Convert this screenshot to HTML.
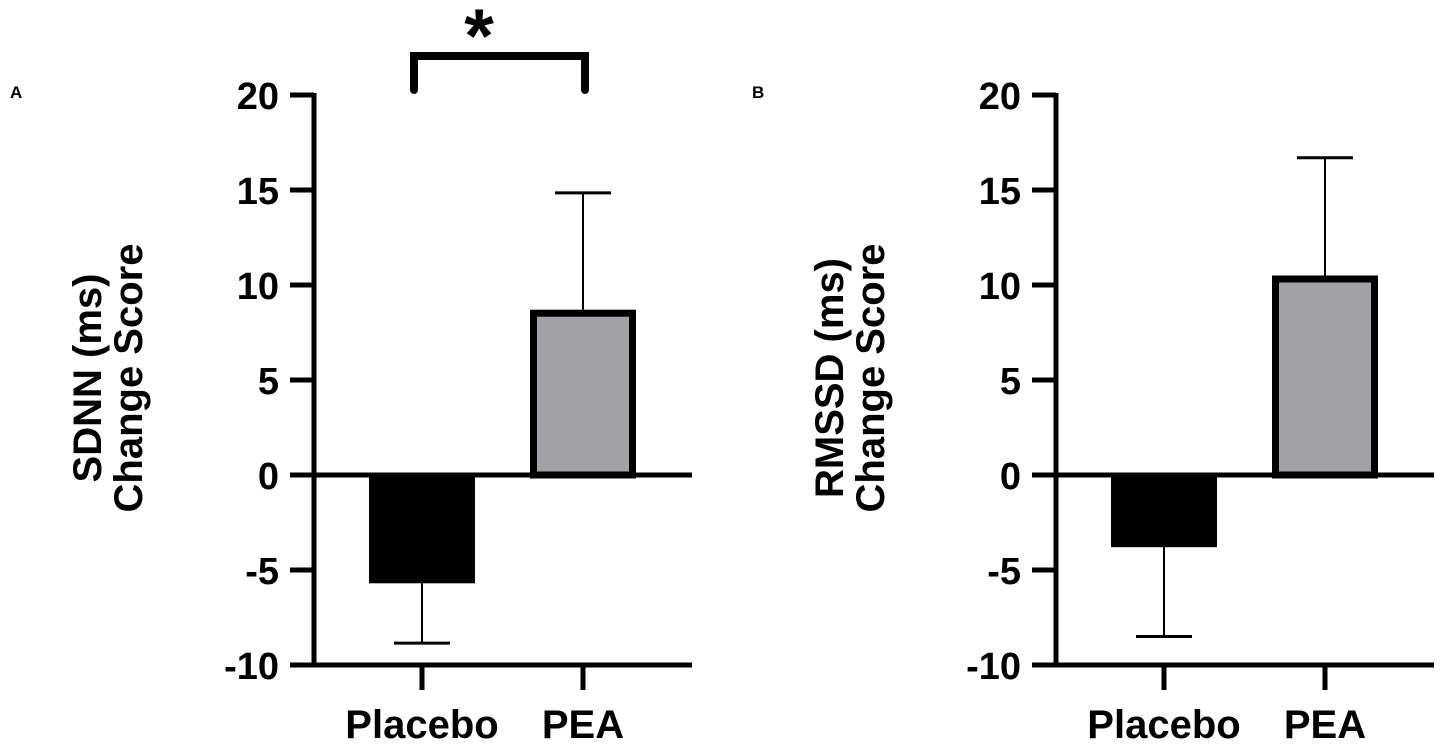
<!DOCTYPE html>
<html><head><meta charset="utf-8"><style>
body{margin:0;background:#fff}
svg{display:block;font-family:"Liberation Sans",Arial,sans-serif;font-weight:bold}
</style></head><body>
<svg id="chart" width="1441" height="746" viewBox="0 0 1441 746" xmlns="http://www.w3.org/2000/svg"></svg>
<script>
const categories = ["Placebo", "PEA"];
const sdnnMeans = [-5.7, 8.7];
const sdnnErrors = [3.15, 6.15];
const rmssdMeans = [-3.8, 10.5];
const rmssdErrors = [4.7, 6.2];
const yTicks = [20, 15, 10, 5, 0, -5, -10];
const panels = [
  {id:"a", letter:"A", title:["SDNN (ms)","Change Score"], means:sdnnMeans, errs:sdnnErrors, ox:0, sig:true},
  {id:"b", letter:"B", title:["RMSSD (ms)","Change Score"], means:rmssdMeans, errs:rmssdErrors, ox:742, sig:false}
];
const NS="http://www.w3.org/2000/svg";
const svg=document.getElementById('chart');
function el(tag, attrs, parent){const e=document.createElementNS(NS,tag);for(const k in attrs)e.setAttribute(k,attrs[k]);(parent||svg).appendChild(e);return e;}
const y0=475, ppu=19;
function yScale(v){return y0 - v*ppu;}
const barCenters=[422,583], barW=106;
panels.forEach(p=>{
  const g=el('g',{});
  
  
  const ax=314+p.ox;
  const L=el('text',{x:10+p.ox,y:98,'font-size':17},g);L.textContent=p.letter;
  
  
  p.title.forEach((t,i)=>{
    const x=101+p.ox+i*41;
    const tt=el('text',{x:x,y:378,'font-size':40,'text-anchor':'middle',transform:`rotate(-90 ${x} 378)`},g);tt.textContent=t;
    
    
  });
  p.means.forEach((m,i)=>{
    const cx=barCenters[i]+p.ox;
    const top=Math.min(yScale(m),y0), bot=Math.max(yScale(m),y0);
    const tipV = m<0 ? m-p.errs[i] : m+p.errs[i];
    const ey=yScale(tipV), ey0=yScale(m);
    const eb=el('line',{x1:cx,x2:cx,y1:ey0,y2:ey,stroke:'#000','stroke-width':2},g);
    
    
    const cap=el('line',{x1:cx-28,x2:cx+28,y1:ey,y2:ey,stroke:'#000','stroke-width':3},g);
    
    
    let r;
    if(i===0){ r=el('rect',{x:cx-barW/2,y:top,width:barW,height:bot-top,fill:'#000'},g); }
    else { r=el('rect',{x:cx-barW/2+3.5,y:top+3.5,width:barW-7,height:bot-top-3.5,fill:'#a2a1a6',stroke:'#000','stroke-width':7},g); }
    
    
    const xt=el('line',{x1:cx,x2:cx,y1:666,y2:690,stroke:'#000','stroke-width':5},g);
    
    
    const lb=el('text',{x:cx,y:738,'font-size':40,'text-anchor':'middle'},g);lb.textContent=categories[i];
    
    
  });
  const ya=el('line',{x1:ax,x2:ax,y1:yScale(20)-2,y2:yScale(-10)+2,stroke:'#000','stroke-width':5},g);
  
  
  [0,-10].forEach(v=>{
    const xl=el('line',{x1:ax-24,x2:692+p.ox,y1:yScale(v),y2:yScale(v),stroke:'#000','stroke-width':5},g);
    
    
  });
  yTicks.forEach(v=>{
    const t=el('line',{x1:ax-24,x2:ax,y1:yScale(v),y2:yScale(v),stroke:'#000','stroke-width':5},g);
    
    
    const tl=el('text',{x:ax-35,y:yScale(v)+14,'font-size':38,'text-anchor':'end'},g);tl.textContent=v;
    
    
  });
  if(p.sig){
    const br=el('path',{d:`M${barCenters[0]-8+p.ox} 90 V56 H${barCenters[1]+2+p.ox} V90`,fill:'none',stroke:'#000','stroke-width':8,'stroke-linecap':'round','stroke-linejoin':'miter'},g);
    
    
    const st=el('text',{x:479,y:62,'font-size':76,'text-anchor':'middle'},g);st.textContent='*';
    
    
  }
});
</script>
</body></html>
